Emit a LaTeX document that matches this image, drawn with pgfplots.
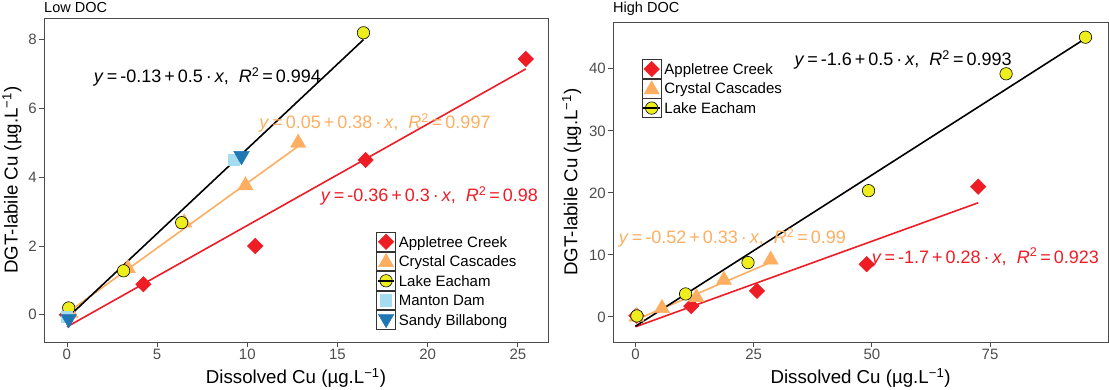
\documentclass[border=0pt]{standalone}
\usepackage{pgfplots}
\pgfplotsset{compat=1.18}
\usepackage{fontspec}
\setmainfont{Liberation Sans}
\definecolor{cred}{HTML}{EE1C25}
\definecolor{corange}{HTML}{FDAE61}
\definecolor{cyellow}{HTML}{EEEE1E}
\definecolor{clblue}{HTML}{A6DCEF}
\definecolor{cdblue}{HTML}{1F78B4}
\definecolor{tickgrey}{HTML}{4D4D4D}
\newcommand{\eq}[3]{\textit{y}\,=\,#1\,+\,#2\,·\,\textit{x},\ \ \textit{R}\textsuperscript{2}\,=\,#3}
\newcommand{\keyimg}[1]{\draw[black!80, line width=0.7pt, fill=white] (0pt,-9.4pt) rectangle (18.8pt,9.4pt); #1}
\pgfplotsset{
  panel/.style={
    scale only axis, anchor=south west, clip=false,
    axis line style={black!70, line width=0.8pt},
    tick style={black!70, line width=0.8pt},
    major tick length=5pt, tick align=outside, tick pos=left,
    minor tick num=0,
    /pgf/number format/assume math mode=true,
    ticklabel style={font=\fontsize{15}{15}\selectfont, text=tickgrey, inner sep=2pt},
    legend style={draw=none, fill=none, inner sep=0pt, row sep=0pt, column sep=3pt,
      nodes={inner sep=0pt, anchor=west, font=\fontsize{15}{15}\selectfont, text height=14.8pt, text depth=4pt},
      cells={anchor=west}},
    legend cell align=left,
  },
  keyA/.style={legend image code/.code={\keyimg{\draw[##1] plot coordinates {(9.4pt,0pt)};}}},
  keyTri/.style={legend image code/.code={\keyimg{\draw[##1] plot coordinates {(9.4pt,-1pt)};}}},
  keyDown/.style={legend image code/.code={\keyimg{\draw[##1] plot coordinates {(9.4pt,1pt)};}}},
  keyLake/.style={legend image code/.code={\keyimg{\draw[black, line width=1.6pt] (1pt,0pt) -- (17.8pt,0pt); \draw[##1] plot coordinates {(9.4pt,0pt)}; \draw[black, line width=1.6pt] (3.6pt,0pt) -- (15.2pt,0pt);}}},
}
\begin{document}
\begin{tikzpicture}
\useasboundingbox (0pt,0pt) rectangle (1109pt,389pt);
% ---------------- Low DOC ----------------
\begin{axis}[panel, at={(44pt,47pt)}, width=504pt, height=324pt,
  xmin=-1.27, xmax=26.67, ymin=-0.79, ymax=8.63,
  xtick={0,5,10,15,20,25}, ytick={0,2,4,6,8},
  xlabel={Dissolved Cu (µg.L\textsuperscript{−1})},
  ylabel={DGT-labile Cu (µg.L\textsuperscript{−1})},
  every axis x label/.style={at={(axis description cs:0.5,-0.111)}, anchor=center, font=\fontsize{18.7}{20}\selectfont},
  every axis y label/.style={at={(axis description cs:-0.0635,0.5)}, anchor=center, rotate=90, font=\fontsize{18.7}{20}\selectfont},
  legend style={at={(0.659,0.34)}, anchor=north west},
]
\addplot[cred, line width=1.6pt, forget plot] coordinates {(0,-0.35) (25.44,7.15)};
\addplot[corange, line width=1.6pt, forget plot] coordinates {(0,0.05) (12.82,4.9)};
\addplot[black, line width=1.6pt, forget plot] coordinates {(0,-0.1) (16.44,8.0)};
\addplot[only marks, mark=square*, mark size=5.5pt, mark options={rotate=45, fill=cred, draw=cred}, keyA]
  coordinates {(0,0) (4.24,0.89) (10.44,2.0) (16.56,4.5) (25.44,7.44)};
\addlegendentry{Appletree Creek}
\addplot[only marks, mark=triangle*, mark size=8.8pt, mark options={fill=corange, draw=corange}, keyTri]
  coordinates {(0.2,0.05) (3.38,1.35) (6.5,2.68) (9.9,3.76) (12.82,5.0)};
\addlegendentry{Crystal Cascades}
\addplot[only marks, mark=*, mark size=6.2pt, mark options={fill=cyellow, draw=black, line width=0.6pt}, keyLake]
  coordinates {(0.1,0.2) (3.14,1.28) (6.36,2.68) (16.44,8.2)};
\addlegendentry{Lake Eacham}
\addplot[only marks, mark=square*, mark size=5.6pt, mark options={fill=clblue, draw=clblue}, keyA]
  coordinates {(0,-0.05) (9.25,4.5)};
\addlegendentry{Manton Dam}
\addplot[only marks, mark=triangle*, mark size=9pt, mark options={rotate=180, fill=cdblue, draw=cdblue}, keyDown]
  coordinates {(0.1,-0.12) (9.68,4.62)};
\addlegendentry{Sandy Billabong}
\node[black, font=\fontsize{18}{20}\selectfont] at (axis cs:7.79,6.91) {\eq{-0.13}{0.5}{0.994}};
\node[corange, font=\fontsize{18}{20}\selectfont] at (axis cs:17.08,5.57) {\eq{0.05}{0.38}{0.997}};
\node[cred, font=\fontsize{18}{20}\selectfont] at (axis cs:20.1,3.46) {\eq{-0.36}{0.3}{0.98}};
\node[anchor=west, inner sep=0pt, font=\fontsize{14.5}{15}\selectfont] at (rel axis cs:0,1.032) {Low DOC};
\end{axis}
% ---------------- High DOC ----------------
\begin{axis}[panel, at={(613pt,47pt)}, width=495pt, height=320pt,
  xmin=-4.76, xmax=99.96, ymin=-4.05, ymax=47.55,
  xtick={0,25,50,75}, ytick={0,10,20,30,40},
  xlabel={Dissolved Cu (µg.L\textsuperscript{−1})},
  ylabel={DGT-labile Cu (µg.L\textsuperscript{−1})},
  every axis x label/.style={at={(axis description cs:0.5,-0.1125)}, anchor=center, font=\fontsize{18.7}{20}\selectfont},
  every axis y label/.style={at={(axis description cs:-0.0834,0.5)}, anchor=center, rotate=90, font=\fontsize{18.7}{20}\selectfont},
  legend style={at={(0.058,0.884)}, anchor=north west},
]
\addplot[cred, line width=1.6pt, forget plot] coordinates {(0,-1.6) (72.5,18.4)};
\addplot[corange, line width=1.6pt, forget plot] coordinates {(0,-0.5) (28.6,8.8)};
\addplot[black, line width=1.6pt, forget plot] coordinates {(0,-1.5) (95.2,44.9)};
\addplot[only marks, mark=square*, mark size=5.5pt, mark options={rotate=45, fill=cred, draw=cred}, keyA]
  coordinates {(0.2,0.2) (11.8,1.75) (25.7,4.2) (48.9,8.5) (72.5,21.0)};
\addlegendentry{Appletree Creek}
\addplot[only marks, mark=triangle*, mark size=8.8pt, mark options={fill=corange, draw=corange}, keyTri]
  coordinates {(0.2,0.0) (5.6,1.4) (12.9,3.15) (18.7,5.95) (28.6,9.2)};
\addlegendentry{Crystal Cascades}
\addplot[only marks, mark=*, mark size=6.2pt, mark options={fill=cyellow, draw=black, line width=0.6pt}, keyLake]
  coordinates {(0.3,0.15) (10.6,3.7) (23.8,8.75) (49.3,20.35) (78.4,39.2) (95.2,45.1)};
\addlegendentry{Lake Eacham}
\node[black, font=\fontsize{18}{20}\selectfont] at (axis cs:56.6,41.4) {\eq{-1.6}{0.5}{0.993}};
\node[corange, font=\fontsize{18}{20}\selectfont] at (axis cs:20.5,12.7) {\eq{-0.52}{0.33}{0.99}};
\node[cred, font=\fontsize{18}{20}\selectfont] at (axis cs:74.0,9.6) {\eq{-1.7}{0.28}{0.923}};
\node[anchor=west, inner sep=0pt, font=\fontsize{14.5}{15}\selectfont] at (rel axis cs:0,1.04) {High DOC};
\end{axis}
\end{tikzpicture}
\end{document}
